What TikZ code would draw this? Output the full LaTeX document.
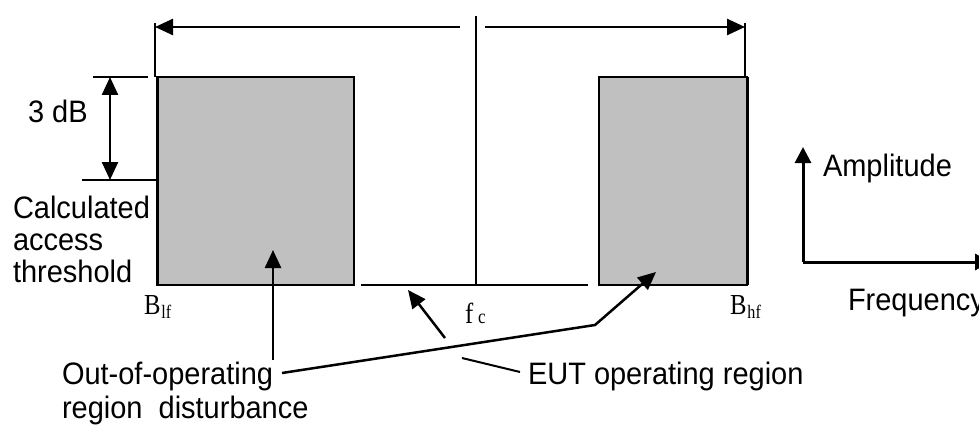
\documentclass[tikz,border=0pt]{standalone}
\usepackage{fontspec}
\setmainfont{Liberation Sans}[FakeStretch=0.935]
\newfontfamily\serifB{Liberation Serif}[FakeStretch=0.85]
\usetikzlibrary{arrows.meta}
\definecolor{boxgray}{RGB}{192,192,192}
\tikzset{
  lbl/.style={font=\fontsize{31}{35}\selectfont, inner sep=0pt, outer sep=0pt, align=left},
  blbl/.style={inner sep=0pt, outer sep=0pt, anchor=base west},
  thinln/.style={line width=1.5pt},
  thickln/.style={line width=3pt},
  arr/.style={line width=2.5pt, -{Triangle[length=18pt,width=16pt]}},
  dblarr/.style={line width=2.5pt, {Triangle[length=18pt,width=16pt]}-{Triangle[length=18pt,width=16pt]}},
  axarr/.style={line width=3pt, -{Triangle[length=16pt,width=16pt]}},
  bandbox/.style={draw, line width=1.5pt, fill=boxgray, inner sep=0pt, outer sep=0pt, anchor=north west},
}
\begin{document}
\begin{tikzpicture}[x=1pt,y=-1pt]
\useasboundingbox (0,0) rectangle (979,425);
% band boxes
\node[bandbox, minimum width=197pt, minimum height=208pt] (lbox) at (157,77) {};
\node[bandbox, minimum width=148pt, minimum height=208pt] (rbox) at (599,77) {};
\draw[thickln] (lbox.north west) -- (lbox.south west);
\draw[thickln] (rbox.north east) -- (rbox.south east);
% coordinates
\coordinate (ltop) at (155,23);
\coordinate (lbot) at (155,77);
\coordinate (rtop) at (745,23);
\coordinate (rbot) at (745,77);
\coordinate (ctop) at (476,16);
\coordinate (cbot) at (476,285);
\coordinate (la) at (460,27);
\coordinate (ltip) at (155,27);
\coordinate (ra) at (485,27);
\coordinate (rtip) at (745,27);
\coordinate (bl) at (361,285);
\coordinate (br) at (588,285);
% top extent lines and arrows
\draw[thinln] (ltop) -- (lbot);
\draw[thinln] (rtop) -- (rbot);
\draw[thinln] (ctop) -- (cbot);
\draw[arr] (la) -- (ltip);
\draw[arr] (ra) -- (rtip);
\draw[thinln] (bl) -- (br);
% 3 dB
\coordinate (t1a) at (93,77);
\coordinate (t1b) at (148,77);
\coordinate (t2a) at (82,180);
\coordinate (t2b) at (157,180);
\coordinate (da) at (110,77);
\coordinate (db) at (110,180);
\draw[thinln] (t1a) -- (t1b);
\draw[thinln] (t2a) -- (t2b);
\draw[dblarr] (da) -- (db);
\node[lbl, anchor=base west] (tdb) at (28,122) {3 dB};
\node[lbl, anchor=north west, font=\fontsize{31}{32}\selectfont] (calc) at (13,196) {Calculated\\access\\threshold};
% frequency labels
\node[blbl] (blf) at (144,314) {\serifB\fontsize{29}{29}\selectfont B\kern1pt\raisebox{-4pt}{\fontsize{19}{19}\selectfont lf}};
\node[blbl] (fc) at (465,323) {\serifB\fontsize{29}{29}\selectfont f\kern5pt{\fontsize{20}{20}\selectfont c}};
\node[blbl] (bhf) at (730,314) {\serifB\fontsize{29}{29}\selectfont B\kern1pt\raisebox{-4pt}{\fontsize{19}{19}\selectfont hf}};
% bottom labels
\node[lbl, anchor=north west, font=\fontsize{31}{34}\selectfont] (out) at (62,362) {Out-of-operating\\region~~disturbance};
\node[lbl, anchor=base west] (eut) at (528,384) {EUT operating region};
% pointers
\coordinate (o1s) at (273,360);
\coordinate (o1t) at (273,250);
\coordinate (o2s) at (282,373);
\coordinate (o2m) at (595,325);
\coordinate (o2t) at (656,272);
\coordinate (e1s) at (445,338);
\coordinate (e1t) at (408,290);
\coordinate (e2s) at (520,372);
\coordinate (e2t) at (462,358);
\draw[arr] (o1s) -- (o1t);
\draw[arr, line join=miter] (o2s) -- (o2m) -- (o2t);
\draw[arr] (e1s) -- (e1t);
\draw[line width=2pt] (e2s) -- (e2t);
% axes
\coordinate (orig) at (803,262);
\coordinate (ytip) at (803,147);
\coordinate (xtip) at (991,262);
\draw[axarr] (orig) -- (ytip);
\draw[axarr] (orig) -- (xtip);
\node[lbl, anchor=base west] (amp) at (823,176) {Amplitude};
\node[lbl, anchor=base west] (freq) at (848,310) {Frequency};
\end{tikzpicture}
\end{document}
